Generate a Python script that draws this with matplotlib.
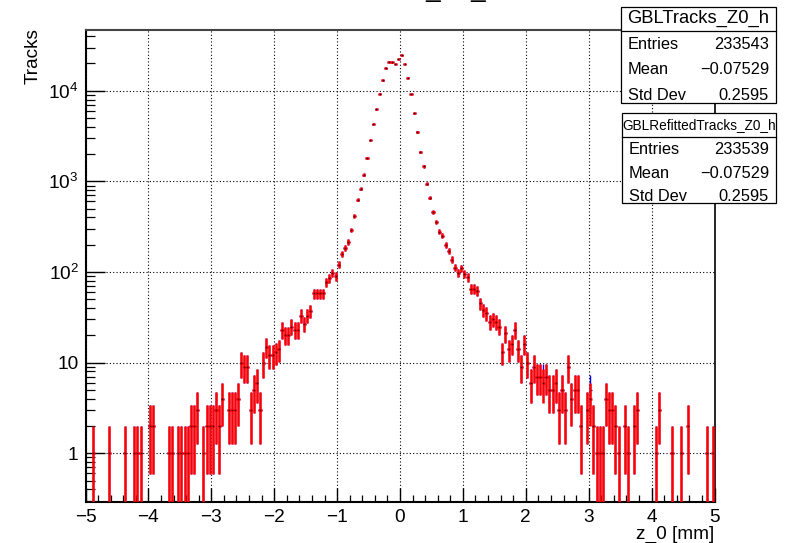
import numpy as np
import matplotlib
matplotlib.use("Agg")
import matplotlib.pyplot as plt
from matplotlib.patches import Rectangle
from matplotlib.lines import Line2D
from matplotlib.ticker import MultipleLocator, LogLocator, NullFormatter, FixedLocator, FixedFormatter

plt.rcParams['font.family'] = ['Liberation Sans', 'DejaVu Sans']
plt.rcParams['mathtext.default'] = 'regular'

# z0 histogram: 200 bins over [-5, 5] mm
x_lo, x_hi, n_bins = -5.0, 5.0, 200

# GBLRefittedTracks_Z0_h bin contents
refit_counts = [
    0, 0, 1, 0, 0, 0, 0, 1, 0, 0, 0, 0, 1, 0, 0, 1, 1, 1, 0, 0,
    2, 2, 0, 0, 0, 0, 1, 1, 0, 1, 1, 1, 1, 2, 2, 3, 0, 1, 2, 2,
    2, 3, 2, 4, 0, 3, 3, 3, 4, 10, 9, 9, 3, 5, 6, 3, 10, 15, 12, 12,
    13, 14, 23, 20, 20, 25, 23, 23, 33, 27, 33, 37, 58, 58, 58, 58, 78, 85, 98, 90,
    121, 159, 183, 214, 292, 418, 630, 830, 1190, 1820,
    2830, 4280, 6280, 9260, 13050, 17700, 21000, 20500, 19700, 22500,
    24600, 19700, 13900, 9200, 5640, 3510, 2110, 1460, 945, 662,
    457, 359, 279, 252, 199, 171, 137, 112, 97, 110,
    95, 87, 65, 65, 62, 45, 38, 35, 28, 30, 28, 25, 13, 21, 14, 16, 23, 14, 9, 16,
    10, 6, 9, 7, 7, 6, 7, 5, 5, 6, 3, 5, 3, 9, 4, 5, 5, 2, 0, 3,
    4, 2, 1, 1, 1, 4, 3, 3, 2, 1, 0, 2, 1, 0, 2, 3, 0, 0, 0, 0,
    0, 1, 3, 0, 0, 0, 1, 0, 0, 1, 0, 2, 0, 0, 0, 0, 0, 1, 0, 1,
]

# GBLTracks_Z0_h bin contents
gbl_counts = [
    0, 0, 1, 0, 0, 0, 0, 1, 0, 0, 0, 0, 1, 0, 0, 1, 1, 1, 0, 0,
    2, 2, 0, 0, 0, 0, 1, 1, 0, 1, 1, 1, 1, 2, 2, 3, 0, 1, 2, 2,
    2, 3, 2, 4, 0, 3, 3, 3, 4, 10, 9, 9, 3, 5, 6, 3, 10, 15, 12, 12,
    13, 14, 23, 20, 20, 25, 23, 23, 33, 27, 33, 37, 58, 58, 58, 58, 78, 85, 98, 90,
    121, 159, 183, 214, 292, 418, 630, 830, 1190, 1820,
    2830, 4280, 6280, 9260, 13050, 17700, 21000, 20500, 19700, 22500,
    24600, 19700, 13900, 9200, 5640, 3510, 2110, 1460, 945, 662,
    457, 359, 279, 252, 199, 171, 137, 112, 97, 110,
    95, 87, 65, 65, 62, 45, 38, 35, 28, 30, 28, 25, 13, 21, 14, 16, 23, 14, 9, 16,
    10, 6, 9, 7, 7, 7, 7, 5, 5, 6, 3, 5, 3, 9, 4, 5, 5, 2, 0, 3,
    5, 2, 1, 1, 1, 4, 3, 3, 2, 1, 0, 2, 1, 0, 2, 3, 0, 0, 0, 0,
    0, 1, 3, 0, 0, 0, 1, 0, 0, 1, 0, 2, 0, 0, 0, 0, 0, 1, 0, 1,
]

y_tick_values = [1, 10, 100, 1000, 10000]
y_tick_labels = ["1", "10", "$10^{2}$", "$10^{3}$", "$10^{4}$"]

gbl_stats = [("Entries", "233543"), ("Mean", "\u22120.07529"), ("Std Dev", "0.2595")]
refit_stats = [("Entries", "233539"), ("Mean", "\u22120.07529"), ("Std Dev", "0.2595")]

W, H = 802, 543
fig = plt.figure(figsize=(W / 100, H / 100), dpi=100)


def fx(px):
    return px / W


def fy(py):
    return 1 - py / H


ax = fig.add_axes([fx(85.5), fy(502), fx(714.5) - fx(85.5), fy(30) - fy(502)])
ax.set_xlim(x_lo, x_hi)
ax.set_yscale('log')
ax.set_ylim(0.29, 46800)

edges = np.linspace(x_lo, x_hi, n_bins + 1)
centers = 0.5 * (edges[:-1] + edges[1:])
half_w = 0.5 * (edges[1] - edges[0])


def draw_hist(counts, color, lw, z, marker=True):
    c = np.asarray(counts, dtype=float)
    m = c > 0
    err = np.sqrt(c[m])
    lower = np.minimum(err, c[m] * (1 - 1e-6))
    ax.errorbar(centers[m], c[m], yerr=[lower, err], xerr=half_w, fmt='none',
                ecolor=color, elinewidth=lw, capsize=0, zorder=z)
    if marker:
        ax.plot(centers[m], c[m], ls='none', marker='s', ms=1.0, mew=0,
                color='#400000', zorder=z + 0.1)


draw_hist(gbl_counts, '#0000ff', 1.0, 3, marker=False)
draw_hist(refit_counts, '#ff0000', 1.8, 4)

# axes ticks
ax.xaxis.set_major_locator(MultipleLocator(1))
ax.xaxis.set_minor_locator(MultipleLocator(0.2))
ax.yaxis.set_major_locator(FixedLocator(y_tick_values))
ax.yaxis.set_major_formatter(FixedFormatter(y_tick_labels))
ax.yaxis.set_minor_locator(LogLocator(base=10, subs=np.arange(2, 10), numticks=30))
ax.yaxis.set_minor_formatter(NullFormatter())
ax.tick_params(axis='x', which='major', direction='in', length=10, width=1,
               labelsize=13.7, pad=5, top=False)
ax.tick_params(axis='x', which='minor', direction='in', length=5, width=0.9, top=False)
ax.tick_params(axis='y', which='major', direction='in', length=13.5, width=1,
               labelsize=13.7, pad=5, right=False)
ax.tick_params(axis='y', which='minor', direction='in', length=6.8, width=0.9, right=False)

ax.grid(which='major', color='black', linestyle=(0, (1, 2)), linewidth=0.8)
ax.set_axisbelow(True)

for side in ('left', 'bottom'):
    ax.spines[side].set_linewidth(1.5)
    ax.spines[side].set_color('black')
ax.spines['right'].set_linewidth(1.2)
ax.spines['right'].set_color('black')
ax.spines['top'].set_linewidth(1.5)
ax.spines['top'].set_color('#444444')

# axis titles
fig.text(fx(714), fy(526), 'z_0 [mm]', ha='right', va='top', fontsize=13.7)
fig.text(fx(33), fy(28), 'Tracks', rotation=90, ha='center', va='top', fontsize=13.7)

# histogram title (sits above the canvas edge)
fig.text(fx(400), fy(-3.5), 'GBLTracks_Z0_h', ha='center', va='baseline', fontsize=18.7)


def stat_box(x0, x1, y0, y_sep, y1, title, title_size, rows, row_ys, row_size):
    fig.add_artist(Rectangle((fx(x0), fy(y1)), fx(x1) - fx(x0), fy(y0) - fy(y1),
                             transform=fig.transFigure, facecolor='white',
                             edgecolor='black', linewidth=0.9, zorder=5))
    fig.add_artist(Line2D([fx(x0), fx(x1)], [fy(y_sep), fy(y_sep)],
                          transform=fig.transFigure, color='black', linewidth=0.9, zorder=6))
    fig.text(fx(0.5 * (x0 + x1)), fy(0.5 * (y0 + y_sep)), title, ha='center', va='center',
             fontsize=title_size, zorder=7)
    for (name, val), yy in zip(rows, row_ys):
        fig.text(fx(x0 + 7), fy(yy), name, ha='left', va='center', fontsize=row_size, zorder=7)
        fig.text(fx(x1 - 7), fy(yy), val, ha='right', va='center', fontsize=row_size, zorder=7)


stat_box(621, 776, 6.7, 31, 103.3, 'GBLTracks_Z0_h', 13.2, gbl_stats, [44.5, 70, 95], 11.8)
stat_box(622, 776, 112.7, 136.7, 203.3, 'GBLRefittedTracks_Z0_h', 9.8, refit_stats,
         [149.5, 173, 196.5], 11.8)

fig.savefig('out.png', dpi=100)
